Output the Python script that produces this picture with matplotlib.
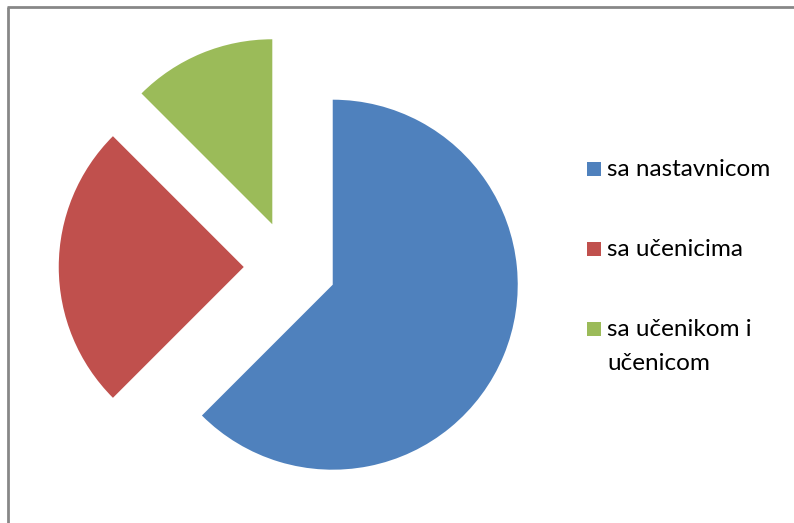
import matplotlib
matplotlib.use("Agg")
import matplotlib.pyplot as plt
from matplotlib.patches import Rectangle
from matplotlib.lines import Line2D

labels = ["sa nastavnicom", "sa učenicima", "sa učenikom i\nučenicom"]
values = [62.5, 25, 12.5]
colors = ["#4F81BD", "#C0504D", "#9BBB59"]

W, H = 794, 523
fig = plt.figure(figsize=(W / 100, H / 100), dpi=100)

# pie axes, 500x500 px, radius 1 = 185 px
ax = fig.add_axes([40 / W, 6 / H, 500 / W, 500 / H])
ax.pie(values, colors=colors, startangle=90, counterclock=False,
       explode=[0.25] * 3, radius=1, wedgeprops=dict(linewidth=0))
lim = 250 / 185
ax.set_xlim(-lim, lim)
ax.set_ylim(-lim, lim)
ax.set_aspect("equal")
ax.axis("off")

# chart frame (only left and top visible)
fig.add_artist(Line2D([8 / W, 8 / W], [0, 1 - 6.5 / H], transform=fig.transFigure,
                      color="#878787", lw=2.0, solid_capstyle="butt"))
fig.add_artist(Line2D([7 / W, 1], [1 - 6.5 / H, 1 - 6.5 / H], transform=fig.transFigure,
                      color="#878787", lw=2.0, solid_capstyle="butt"))

# legend
ys = [169, 249, 329]
for lab, col, y in zip(labels, colors, ys):
    fig.add_artist(Rectangle((587 / W, 1 - (y + 7) / H), 14 / W, 14 / H,
                             transform=fig.transFigure, color=col, lw=0))
    first = lab.split("\n")
    for k, line in enumerate(first):
        fig.text(607 / W, 1 - (y + 1 + 33 * k) / H, line, fontsize=17.5,
                 family="Lato", va="center", ha="left", color="#000000")

fig.savefig("out.png", dpi=100)
